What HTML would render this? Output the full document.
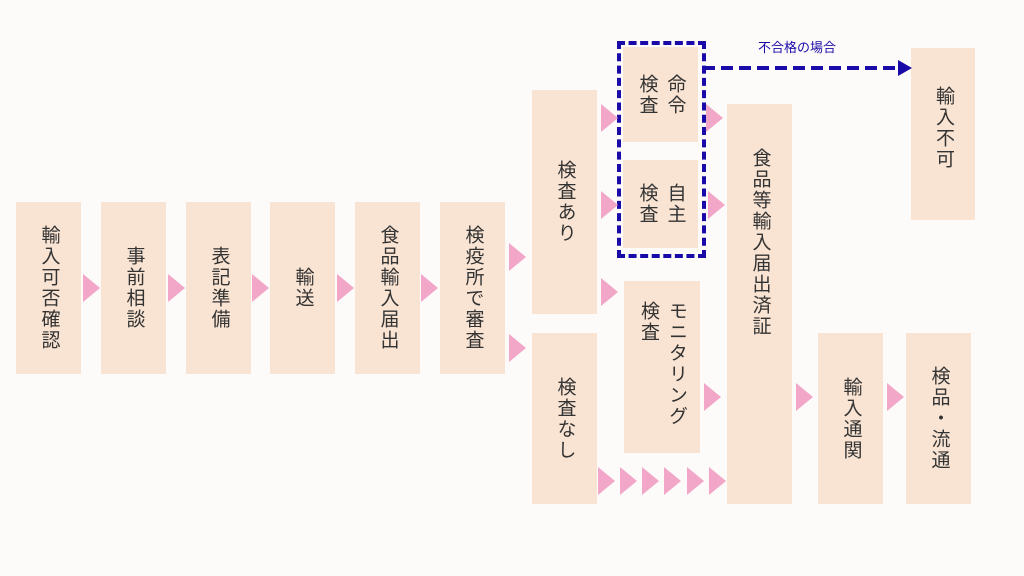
<!DOCTYPE html>
<html><head><meta charset="utf-8"><style>
body{margin:0;width:1024px;height:576px;background:#fdfbfa;position:relative;overflow:hidden;font-family:"Liberation Sans","Noto Sans CJK JP",sans-serif;}
.b{position:absolute;background:#f9e4d3;display:flex;align-items:center;justify-content:center;}
.t{writing-mode:vertical-rl;font-size:19px;color:#333;letter-spacing:2px;line-height:34px;}
.t2{line-height:28px;}
.a{position:absolute;width:0;height:0;border-top:14px solid transparent;border-bottom:14px solid transparent;border-left:17px solid #f2a7c8;}
</style></head><body>
<div class="b" style="left:16px;top:202px;width:65px;height:172px"><div class="t">輸入可否確認</div></div>
<div class="b" style="left:101px;top:202px;width:65px;height:172px"><div class="t">事前相談</div></div>
<div class="b" style="left:186px;top:202px;width:65px;height:172px"><div class="t">表記準備</div></div>
<div class="b" style="left:270px;top:202px;width:65px;height:172px"><div class="t">輸送</div></div>
<div class="b" style="left:355px;top:202px;width:65px;height:172px"><div class="t">食品輸入届出</div></div>
<div class="b" style="left:440px;top:202px;width:65px;height:172px"><div class="t">検疫所で審査</div></div>
<div class="b" style="left:532px;top:90px;width:65px;height:224px"><div class="t">検査あり</div></div>
<div class="b" style="left:532px;top:333px;width:65px;height:171px"><div class="t">検査なし</div></div>
<div class="b" style="left:623px;top:47px;width:75px;height:95px"><div class="t t2">命令<br>検査</div></div>
<div class="b" style="left:623px;top:160px;width:75px;height:88px"><div class="t t2">自主<br>検査</div></div>
<div class="b" style="left:624px;top:281px;width:76px;height:172px;align-items:flex-start"><div class="t t2" style="margin-top:20px">モニタリング<br>検査</div></div>
<div class="b" style="left:727px;top:104px;width:65px;height:400px;align-items:flex-start"><div class="t" style="margin-top:44px">食品等輸入届出済証</div></div>
<div class="b" style="left:818px;top:333px;width:65px;height:171px"><div class="t">輸入通関</div></div>
<div class="b" style="left:906px;top:333px;width:65px;height:171px"><div class="t">検品・流通</div></div>
<div class="b" style="left:911px;top:48px;width:64px;height:172px;align-items:flex-start"><div class="t" style="margin-top:38px">輸入不可</div></div>
<div style="position:absolute;left:617px;top:41px;width:81px;height:209px;border:4px dashed #1a0aa8;box-sizing:content-box"></div>
<svg style="position:absolute;left:0;top:0" width="1024" height="576"><line x1="703" y1="68" x2="900" y2="68" stroke="#1a0aa8" stroke-width="4" stroke-dasharray="12,6"/><polygon points="898,60 912,68 898,76" fill="#1a0aa8"/>
<text x="758" y="52" font-size="13" fill="#1a0aa8" font-family="Liberation Sans, Noto Sans CJK JP, sans-serif">不合格の場合</text></svg>
<div class="a" style="left:83px;top:274px"></div>
<div class="a" style="left:168px;top:274px"></div>
<div class="a" style="left:252px;top:274px"></div>
<div class="a" style="left:337px;top:274px"></div>
<div class="a" style="left:421px;top:274px"></div>
<div class="a" style="left:509px;top:243px"></div>
<div class="a" style="left:509px;top:334px"></div>
<div class="a" style="left:601px;top:104px"></div>
<div class="a" style="left:601px;top:191px"></div>
<div class="a" style="left:601px;top:278px"></div>
<div class="a" style="left:706px;top:104px"></div>
<div class="a" style="left:708px;top:191px"></div>
<div class="a" style="left:704px;top:383px"></div>
<div class="a" style="left:796px;top:383px"></div>
<div class="a" style="left:887px;top:383px"></div>
<div class="a" style="left:598px;top:467px"></div>
<div class="a" style="left:620px;top:467px"></div>
<div class="a" style="left:642px;top:467px"></div>
<div class="a" style="left:664px;top:467px"></div>
<div class="a" style="left:687px;top:467px"></div>
<div class="a" style="left:709px;top:467px"></div>
</body></html>
